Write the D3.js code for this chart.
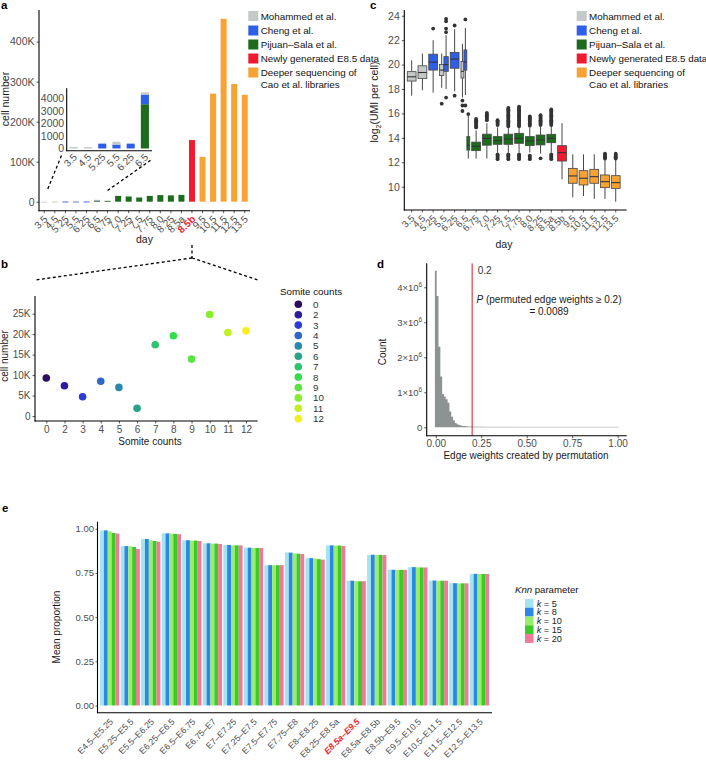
<!DOCTYPE html>
<html><head><meta charset="utf-8">
<script src="https://cdn.jsdelivr.net/npm/d3@7/dist/d3.min.js"></script>
<style>
html,body{margin:0;padding:0;background:#fff;}
svg text{font-family:"Liberation Sans",Arial,Helvetica,sans-serif;}
</style></head><body>
<svg id="fig" width="706" height="762"></svg>
<script>
// ================= DATA =================
// Panels a and c: embryonic day categories
const days = ["3.5","4.5","5.25","5.5","6.25","6.5","6.75","7.0","7.25","7.5","7.75","8.0","8.25","8.5a","8.5b","9.5","10.5","11.5","12.5","13.5"];
const insetDays = ["3.5","4.5","5.25","5.5","6.25","6.5"];
const sourceNames = ["Mohammed et al.","Cheng et al.","Pijuan\u2013Sala et al.","Newly generated E8.5 data","Deeper sequencing of","Cao et al. libraries"];
const sourceColors = ["#c4c8c6","#2f5fe8","#1d6b1d","#f21a2e","#f7a233"];

// Panel a: cell number per day and data source
const cellsMohammed = [120,110,0,230,0,180,0,0,0,0,0,0,0,0,0,0,0,0,0,0];
const cellsCheng    = [0,0,390,310,390,770,0,0,0,0,0,0,0,0,0,0,0,0,0,0];
const cellsPijuan   = [0,0,0,0,0,3540,2200,14500,13000,10500,14500,16500,15800,17000,0,0,0,0,0,0];
const cellsNew      = [0,0,0,0,0,0,0,0,0,0,0,0,0,0,154000,0,0,0,0,0];
const cellsCao      = [0,0,0,0,0,0,0,0,0,0,0,0,0,0,0,112000,270000,457000,294000,267000];
const cellTicks = [0,100000,200000,300000,400000];
const insetTicks = [0,1000,2000,3000,4000];

// Panel b: somite counts in E8.5b
const somiteCats = ["0","2","3","4","5","6","7","8","9","10","11","12"];
const somiteCells = [9300,7400,4700,8500,7000,1900,17400,19600,13900,24800,20400,20800];
const somiteColors = ["#2c0c5c","#2b1ca0","#2b3cd8","#2f66c8","#2a8aab","#27a385","#2cc46c","#34dd4c","#58e63e","#88ee2c","#c2f020","#f4ef1c"];
const somiteTicks = [0,5000,10000,15000,20000,25000];

// Panel c: log2(UMI per cell) box statistics
// [day, source index, lower whisker, q1, median, q3, upper whisker]
const umiBoxes = [
 ["3.5",0,17.45,18.65,19.0,19.42,20.35],
 ["4.5",0,17.9,18.85,19.35,19.9,20.9],
 ["5.25",1,17.7,19.55,20.2,20.85,22.0],
 ["5.5",0,18.1,19.1,19.55,20.0,20.9],
 ["5.5",1,18.0,19.45,20.0,20.65,22.4],
 ["6.25",1,17.8,19.7,20.45,21.0,22.9],
 ["6.5",0,17.3,18.9,19.45,20.25,21.7],
 ["6.5",1,17.5,19.55,20.2,21.2,23.0],
 ["6.5",2,12.3,13.0,13.4,14.1,15.8],
 ["6.75",2,12.3,12.95,13.3,13.65,14.6],
 ["7.0",2,12.3,13.4,13.95,14.3,15.2],
 ["7.25",2,12.8,13.47,13.77,14.1,14.86],
 ["7.5",2,12.8,13.47,13.9,14.3,14.8],
 ["7.75",2,12.8,13.55,13.96,14.37,14.8],
 ["8.0",2,12.8,13.36,13.74,14.1,14.85],
 ["8.25",2,12.7,13.42,13.83,14.23,14.9],
 ["8.5a",2,12.8,13.6,13.96,14.29,14.9],
 ["8.5b",3,10.6,12.1,12.79,13.36,15.2],
 ["9.5",4,9.13,10.28,10.88,11.5,12.65],
 ["10.5",4,9.24,10.14,10.69,11.31,12.65],
 ["11.5",4,9.0,10.28,10.82,11.42,12.65],
 ["12.5",4,9.0,9.92,10.41,10.96,12.2],
 ["13.5",4,8.77,9.86,10.33,10.9,12.2]
];
const umiOutliers = [
 [], [], [22.95], [16.8],
 [22.65,22.95,23.55,23.75,17.3],
 [23.2,17.45],
 [17.05,16.65,16.2],
 [23.7,16.65],
 [15.95],
 [14.85,14.95,15.05,15.15,15.25,15.35,15.45,15.55],
 [15.45,15.55,15.65,15.75,15.85,15.95,16.05],
 [15.05,15.15,15.25,15.35,15.45,12.25,12.35,12.45,12.55,12.65],
 [14.95,15.05,15.15,15.25,15.35,15.45,15.55,15.65,15.75,15.85,15.95,16.05,16.15,16.25,16.35,16.45,12.25,12.35,12.45,12.55,12.65],
 [14.95,15.05,15.15,15.25,15.35,15.45,15.55,15.65,15.75,15.85,15.95,16.05,16.15,16.25,16.35,16.45,16.55,12.25,12.35,12.45,12.55,12.65],
 [15.0,15.1,15.2,15.3,15.4,15.5,15.6,15.7,15.75,12.25,12.35,12.45,12.55],
 [15.05,15.15,15.25,15.35,15.45,15.55,15.65,15.75,15.85,12.32],
 [15.05,15.15,15.25,15.35,15.45,15.55,15.65,15.75,15.85,15.95,16.05,16.15,16.25,16.32,12.25,12.35,12.45,12.55,12.65],
 [], [], [], [],
 [12.3,12.4,12.5,12.6,12.7],
 [12.3,12.4,12.5,12.6,12.7]
];
const umiTicks = [10,12,14,16,18,20,22,24];

// Panel d: permuted edge weight histogram (counts in millions)
const histStart = -0.005, histWidth = 0.01;
const histCounts = [4.47,3.75,2.3,1.45,0.95,0.88,0.80,0.70,0.45,0.30,0.20,0.12,0.085,0.065,0.05,0.04,0.035,0.03,0.025,0.02,0.02];
const tailStart = 0.205, tailWidth = 0.05;
const tailCounts = [0.014,0.010,0.008,0.006,0.005,0.004,0.004,0.003,0.003,0.003,0.002,0.002,0.002,0.002,0.002,0.001];
const histXTicks = [0,0.25,0.5,0.75,1];
const histYTicks = [0,1,2,3,4];
const edgeThreshold = 0.2;

// Panel e: mean proportion by Knn parameter
const knnGroups = ["E4.5\u2013E5.25","E5.25\u2013E5.5","E5.5\u2013E6.25","E6.25\u2013E6.5","E6.5\u2013E6.75","E6.75\u2013E7","E7\u2013E7.25","E7.25\u2013E7.5","E7.5\u2013E7.75","E7.75\u2013E8","E8\u2013E8.25","E8.25\u2013E8.5a","E8.5a\u2013E9.5","E8.5a\u2013E8.5b","E8.5b\u2013E9.5","E9.5\u2013E10.5","E10.5\u2013E11.5","E11.5\u2013E12.5","E12.5\u2013E13.5"];
const knnKeys = ["5","8","10","15","20"];
const knnColors = ["#a2e4f0","#2b87e3","#96ee6c","#3ccb26","#f07898"];
const prop_k5  = [.991,.902,.942,.974,.935,.918,.908,.893,.794,.866,.834,.906,.706,.853,.768,.783,.707,.692,.745];
const prop_k8  = [.991,.902,.942,.974,.935,.918,.908,.893,.794,.865,.834,.906,.706,.853,.768,.783,.707,.692,.745];
const prop_k10 = [.986,.901,.935,.973,.933,.916,.906,.891,.794,.861,.831,.905,.703,.852,.767,.782,.706,.691,.744];
const prop_k15 = [.976,.897,.931,.971,.933,.916,.906,.891,.794,.859,.828,.905,.703,.852,.767,.781,.706,.691,.744];
const prop_k20 = [.973,.885,.927,.969,.931,.914,.906,.891,.794,.857,.825,.902,.703,.851,.767,.781,.706,.691,.744];
const propTicks = [0,0.25,0.5,0.75,1];

// ================= HELPERS =================
const svg = d3.select("#fig");
const GREY = "#4d4d4d";
function addText(x,y,str,o={}){
  const t = svg.append("text").attr("x",x).attr("y",y).text(str)
    .style("font-size",(o.size||10)+"px").attr("fill",o.fill||"#1a1a1a");
  if(o.anchor) t.attr("text-anchor",o.anchor);
  if(o.weight) t.style("font-weight",o.weight);
  if(o.italic) t.style("font-style","italic");
  if(o.rotate!=null) t.attr("transform",`rotate(${o.rotate},${x},${y})`);
  return t;
}
function line(x1,y1,x2,y2,o={}){
  const l = svg.append("line").attr("x1",x1).attr("y1",y1).attr("x2",x2).attr("y2",y2)
    .attr("stroke",o.stroke||"#000").attr("stroke-width",o.w||1.1);
  if(o.dash) l.attr("stroke-dasharray",o.dash);
  return l;
}
function styleAxis(g,fs){
  g.select(".domain").remove();
  g.selectAll(".tick line").attr("stroke","#333").attr("stroke-width",0.8);
  g.selectAll(".tick text").attr("fill",GREY).style("font-size",fs+"px");
}
function rotateLabels(g,dx,dy){
  g.selectAll(".tick text").attr("x",0).attr("y",0).attr("dy",0)
    .attr("text-anchor","end").attr("transform",`translate(${dx},${dy}) rotate(-45)`);
}
const kfmt = d => d===0 ? "0" : (d/1000)+"K";

// ================= PANEL a =================
addText(1,9,"a",{size:11.5,weight:"bold",fill:"#000"});
const xa = d3.scaleBand().domain(days).range([39,250]).paddingInner(0.43).paddingOuter(0.215);
const ya = d3.scaleLinear().domain([-22500,479000]).range([210.7,10]);
const cellSeries = [cellsMohammed,cellsCheng,cellsPijuan,cellsNew,cellsCao];
const cellRows = days.map((d,i)=>{const r={day:d}; cellSeries.forEach((s,k)=>r["s"+k]=s[i]); return r;});
const stackKeys = ["s2","s1","s0","s3","s4"];
const stackedA = d3.stack().keys(stackKeys)(cellRows);
stackedA.forEach(layer=>{
  const col = sourceColors[+layer.key.slice(1)];
  svg.append("g").selectAll("rect").data(layer.filter(d=>d[1]>d[0])).join("rect")
    .attr("x",d=>xa(d.data.day)).attr("width",xa.bandwidth())
    .attr("y",d=>ya(d[1])).attr("height",d=>Math.max(0.9,ya(d[0])-ya(d[1])))
    .attr("fill",col);
});
const gay = svg.append("g").attr("transform","translate(39,0)")
  .call(d3.axisLeft(ya).tickValues(cellTicks).tickSize(2.5).tickPadding(2).tickFormat(kfmt));
styleAxis(gay,10.5);
const gax = svg.append("g").attr("transform","translate(0,210.7)")
  .call(d3.axisBottom(xa).tickSize(2.5).tickSizeOuter(0));
styleAxis(gax,10);
rotateLabels(gax,4,9);
gax.selectAll(".tick text").filter(d=>d==="8.5b").attr("fill","#f21a2e").style("font-weight","bold");
line(39,10,39,211.2); line(38.5,210.7,250,210.7);
addText(9,99,"cell number",{anchor:"middle",rotate:-90,size:10.5});
addText(144.5,243,"day",{anchor:"middle",size:10.5});

// inset
const xi = d3.scaleBand().domain(insetDays).range([66.7,152]).paddingInner(0.43).paddingOuter(0.215);
const yi = d3.scaleLinear().domain([-177,4815]).range([150.7,88.3]);
const insetRows = cellRows.filter(r=>insetDays.includes(r.day));
const stackedI = d3.stack().keys(stackKeys)(insetRows);
stackedI.forEach(layer=>{
  const col = sourceColors[+layer.key.slice(1)];
  svg.append("g").selectAll("rect").data(layer.filter(d=>d[1]>d[0])).join("rect")
    .attr("x",d=>xi(d.data.day)).attr("width",xi.bandwidth())
    .attr("y",d=>yi(d[1])).attr("height",d=>Math.max(0.9,yi(d[0])-yi(d[1])))
    .attr("fill",col);
});
const giy = svg.append("g").attr("transform","translate(66.7,0)")
  .call(d3.axisLeft(yi).tickValues(insetTicks).tickSize(0).tickPadding(2.5).tickFormat(d3.format("d")));
styleAxis(giy,10.5);
const gix = svg.append("g").attr("transform","translate(0,150.7)")
  .call(d3.axisBottom(xi).tickSize(0).tickSizeOuter(0));
styleAxis(gix,10);
rotateLabels(gix,4,7);
line(66.7,88.3,66.7,151.3); line(66.2,150.7,152,150.7);
// zoom connectors
line(xa("3.5")+xa.bandwidth()+0.5, ya(32000), xi.range()[0]-5, yi.range()[0]+4.3,{dash:"3,2.5",w:1.3});
line(xa("6.75")+xa.bandwidth()/2, ya(28000), xi.range()[1], yi.range()[0]+8.6,{dash:"3,2.5",w:1.3});

// legend a
function sourceLegend(x0){
  const rowsY = [16,30.5,44.5,58.5,72.5];
  sourceColors.forEach((c,i)=>{
    svg.append("rect").attr("x",x0).attr("y",rowsY[i]-5).attr("width",10).attr("height",10).attr("fill",c);
  });
  sourceNames.forEach((n,i)=>{
    const yy = i<5 ? rowsY[i]+3.5 : rowsY[4]+15.5;
    addText(x0+12.4,yy,n,{size:9.8,fill:"#111"});
  });
}
sourceLegend(248.3);

// connectors a -> b
const cx85 = xa("8.5b")+xa.bandwidth()/2;
line(cx85,245,cx85,258,{dash:"3,2.5",w:1.3});
line(cx85,258,35,280,{dash:"3,2.5",w:1.3});
line(cx85,258,258,280,{dash:"3,2.5",w:1.3});

// ================= PANEL b =================
addText(1,268,"b",{size:11.5,weight:"bold",fill:"#000"});
const xb = d3.scalePoint().domain(somiteCats).range([46.3,246]);
const yb = d3.scaleLinear().domain([-1200,29300]).range([421,296]);
svg.append("g").selectAll("circle").data(somiteCats).join("circle")
  .attr("cx",d=>xb(d)).attr("cy",(d,i)=>yb(somiteCells[i])).attr("r",3.8)
  .attr("fill",(d,i)=>somiteColors[i]);
const gby = svg.append("g").attr("transform","translate(35,0)")
  .call(d3.axisLeft(yb).tickValues(somiteTicks).tickSize(2.5).tickPadding(2).tickFormat(kfmt));
styleAxis(gby,10);
const gbx = svg.append("g").attr("transform","translate(0,421)")
  .call(d3.axisBottom(xb).tickSize(2.5).tickPadding(2).tickSizeOuter(0));
styleAxis(gbx,10);
line(35,296,35,421.5); line(34.5,421,257.7,421);
addText(8,356,"cell number",{anchor:"middle",rotate:-90,size:10});
addText(150,445,"Somite counts",{anchor:"middle",size:10});
addText(280,295,"Somite counts",{size:9.8,fill:"#111"});
somiteCats.forEach((c,i)=>{
  svg.append("circle").attr("cx",298.3).attr("cy",304.3+i*10.4).attr("r",3.8).attr("fill",somiteColors[i]);
  addText(313,304.3+i*10.4+3.5,c,{size:9.8,fill:"#333"});
});

// ================= PANEL c =================
addText(370,9,"c",{size:11.5,weight:"bold",fill:"#000"});
const xc = d3.scaleBand().domain(days).range([406.3,621.1]).padding(0);
const yc = d3.scaleLinear().domain([8.09,24.47]).range([210,10]);
const boxW = xc.bandwidth()*0.82;
const groupsPerDay = d3.group(umiBoxes,d=>d[0]);
umiBoxes.forEach((b,bi)=>{
  const grp = groupsPerDay.get(b[0]);
  const n = grp.length, j = grp.indexOf(b);
  const w = boxW/n;
  const cx = xc(b[0]) + xc.bandwidth()/2 - boxW/2 + (j+0.5)*w;
  const g = svg.append("g");
  g.append("line").attr("x1",cx).attr("x2",cx).attr("y1",yc(b[2])).attr("y2",yc(b[3])).attr("stroke","#333").attr("stroke-width",0.9);
  g.append("line").attr("x1",cx).attr("x2",cx).attr("y1",yc(b[5])).attr("y2",yc(b[6])).attr("stroke","#333").attr("stroke-width",0.9);
  g.append("rect").attr("x",cx-w/2).attr("width",w).attr("y",yc(b[5])).attr("height",yc(b[3])-yc(b[5]))
    .attr("fill",sourceColors[b[1]]).attr("stroke","#444").attr("stroke-width",0.8);
  g.append("line").attr("x1",cx-w/2).attr("x2",cx+w/2).attr("y1",yc(b[4])).attr("y2",yc(b[4])).attr("stroke","#333").attr("stroke-width",1.1);
  g.selectAll("circle").data(umiOutliers[bi]).join("circle")
    .attr("cx",cx).attr("cy",d=>yc(d)).attr("r",1.9).attr("fill","#333");
});
const gcy = svg.append("g").attr("transform","translate(404.3,0)")
  .call(d3.axisLeft(yc).tickValues(umiTicks).tickSize(2.5).tickPadding(2));
styleAxis(gcy,10.5);
const gcx = svg.append("g").attr("transform","translate(0,210)")
  .call(d3.axisBottom(xc).tickSize(2.5).tickSizeOuter(0));
styleAxis(gcx,9.5);
rotateLabels(gcx,3.5,9);
line(404.3,10,404.3,210.5); line(403.8,210,626.7,210);
{
  const t = svg.append("text").attr("transform","translate(378,102) rotate(-90)").attr("text-anchor","middle")
    .style("font-size","10.5px").attr("fill","#1a1a1a");
  t.append("tspan").text("log");
  t.append("tspan").text("2").attr("dy",3).style("font-size","7px");
  t.append("tspan").text("(UMI per cell)").attr("dy",-3);
}
addText(504,248,"day",{anchor:"middle",size:10.5});
sourceLegend(576.7);

// ================= PANEL d =================
addText(377,268,"d",{size:11.5,weight:"bold",fill:"#000"});
const xd = d3.scaleLinear().domain([-0.05,1.05]).range([426.7,626.7]);
const yd = d3.scaleLinear().domain([-0.24,4.686]).range([435.7,263.3]);
// histogram drawn as a stepped area (no seams between bins)
const histPts = histCounts.map((c,i)=>({x:histStart+i*histWidth, y:c}));
histPts.push({x:histStart+histCounts.length*histWidth, y:histCounts[histCounts.length-1]});
const tailPts = tailCounts.map((c,i)=>({x:tailStart+i*tailWidth, y:c}));
tailPts.push({x:tailStart+tailCounts.length*tailWidth, y:tailCounts[tailCounts.length-1]});
const histArea = d3.area().curve(d3.curveStepAfter).x(d=>xd(d.x)).y0(yd(0)).y1(d=>yd(d.y));
svg.append("path").attr("d",histArea(tailPts)).attr("fill","#c9cccc").attr("stroke","#c9cccc").attr("stroke-width",0.6);
svg.append("path").attr("d",histArea(histPts)).attr("fill","#8d9393");
line(xd(edgeThreshold),263.3,xd(edgeThreshold),435.7,{stroke:"#e8141f",w:1});
addText(xd(edgeThreshold)+5.5,274,"0.2",{size:10,fill:"#333"});
{
  const t = svg.append("text").attr("x",549).attr("y",303).attr("text-anchor","middle").style("font-size","10px").attr("fill","#1a1a1a");
  t.append("tspan").text("P").style("font-style","italic");
  t.append("tspan").text(" (permuted edge weights \u2265 0.2)");
  addText(549,315,"= 0.0089",{anchor:"middle",size:10});
}
const gdy = svg.append("g").attr("transform","translate(426.7,0)")
  .call(d3.axisLeft(yd).tickValues(histYTicks).tickSize(2.5).tickPadding(2).tickFormat(()=>""));
styleAxis(gdy,9.5);
gdy.selectAll(".tick text").each(function(d){
  const t = d3.select(this);
  if(d===0){ t.text("0"); return; }
  t.append("tspan").text(d+"\u00d710");
  t.append("tspan").text("6").attr("dy",-4).style("font-size","6.5px");
});
const gdx = svg.append("g").attr("transform","translate(0,435.7)")
  .call(d3.axisBottom(xd).tickValues(histXTicks).tickSize(2.5).tickPadding(2).tickFormat(d3.format(".2f")));
styleAxis(gdx,10);
line(426.7,263.3,426.7,436.2); line(426.2,435.7,626.7,435.7);
addText(386,352,"Count",{anchor:"middle",rotate:-90,size:10});
addText(526,459,"Edge weights created by permutation",{anchor:"middle",size:10});

// ================= PANEL e =================
addText(2,512,"e",{size:11.5,weight:"bold",fill:"#000"});
const xe = d3.scaleBand().domain(knnGroups).range([99.4,489.7]).paddingInner(0.06).paddingOuter(0.03);
const xeIn = d3.scaleBand().domain(knnKeys).range([0,xe.bandwidth()]);
const ye = d3.scaleLinear().domain([-0.041,1.040]).range([712.7,521.7]);
const propSeries = [prop_k5,prop_k8,prop_k10,prop_k15,prop_k20];
knnKeys.forEach((k,ki)=>{
  svg.append("g").selectAll("rect").data(knnGroups).join("rect")
    .attr("x",d=>xe(d)+xeIn(k)).attr("width",xeIn.bandwidth())
    .attr("y",(d,i)=>ye(propSeries[ki][i])).attr("height",(d,i)=>ye(0)-ye(propSeries[ki][i]))
    .attr("fill",knnColors[ki]);
});
const gey = svg.append("g").attr("transform","translate(97.5,0)")
  .call(d3.axisLeft(ye).tickValues(propTicks).tickSize(2).tickPadding(1.5).tickFormat(d3.format(".2f")));
styleAxis(gey,9.5);
const gex = svg.append("g").attr("transform","translate(0,712.7)")
  .call(d3.axisBottom(xe).tickSize(0).tickSizeOuter(0));
styleAxis(gex,8.8);
rotateLabels(gex,4,9.5);
gex.selectAll(".tick text").filter(d=>d==="E8.5a\u2013E9.5").attr("fill","#f21a2e").style("font-weight","bold").style("font-style","italic");
line(97.5,521.7,97.5,713.2); line(97,712.7,492,712.7);
addText(60,627,"Mean proportion",{anchor:"middle",rotate:-90,size:10});
{
  const t = svg.append("text").attr("x",515).attr("y",593).style("font-size","9.6px").attr("fill","#111");
  t.append("tspan").text("Knn").style("font-style","italic");
  t.append("tspan").text(" parameter");
}
knnKeys.forEach((k,i)=>{
  const cy = 603.3+i*8.8;
  svg.append("rect").attr("x",525).attr("y",cy-4.4).attr("width",8.5).attr("height",8.8).attr("fill",knnColors[i]);
  const t = svg.append("text").attr("x",536.7).attr("y",cy+3.2).style("font-size","9.2px").attr("fill","#222");
  t.append("tspan").text("k").style("font-style","italic");
  t.append("tspan").text(" = "+k);
});
</script>
</body></html>
